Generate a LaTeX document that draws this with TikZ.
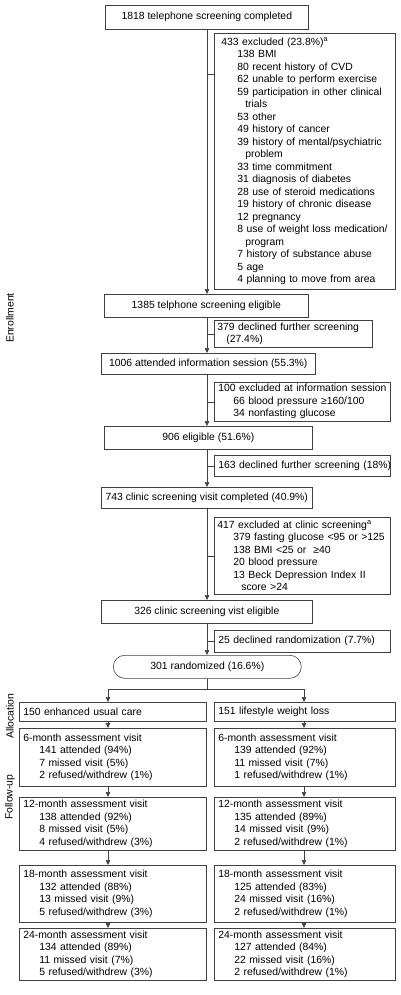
\documentclass[tikz,border=0pt]{standalone}
\usepackage{fontspec}
\setmainfont{Liberation Sans}
\usetikzlibrary{arrows.meta}
\newcommand\indA{\hspace*{16pt}}
\newcommand\indB{\hspace*{24pt}}
\tikzset{
  ln/.style={draw=black!75, line width=0.6pt},
  arr/.style={ln, -{Triangle[length=5pt,width=4.5pt]}},
  mainbox/.style={ln, anchor=north west, align=center, inner sep=0pt,
    font=\fontsize{10.4}{12.5}\selectfont},
  sidebox/.style={ln, anchor=north west, align=left, inner ysep=0pt,
    font=\fontsize{10.4}{12.5}\selectfont},
  lab/.style={rotate=90, font=\fontsize{10.4}{12.5}\selectfont}
}
\begin{document}
\begin{tikzpicture}[x=1pt,y=-1pt]
\useasboundingbox (0,0) rectangle (400,995);
\coordinate (tx) at (207,0);
\coordinate (lx) at (108,0);
\coordinate (rx) at (304,0);

% main column
\node[mainbox, minimum width=203pt, minimum height=24pt] (b1) at (105,5) {1818 telephone screening completed};
\node[sidebox, inner xsep=7pt, text width=167pt, minimum height=256pt] (ex1) at (214,33) {433 excluded (23.8\%)\textsuperscript{a}\\
\indA 138 BMI\\
\indA 80 recent history of CVD\\
\indA 62 unable to perform exercise\\
\indA 59 participation in other clinical\\
\indB trials\\
\indA 53 other\\
\indA 49 history of cancer\\
\indA 39 history of mental/psychiatric\\
\indB problem\\
\indA 33 time commitment\\
\indA 31 diagnosis of diabetes\\
\indA 28 use of steroid medications\\
\indA 19 history of chronic disease\\
\indA 12 pregnancy\\
\indA 8 use of weight loss medication/\\
\indB program\\
\indA 7 history of substance abuse\\
\indA 5 age\\
\indA 4 planning to move from area};
\node[mainbox, minimum width=204pt, minimum height=23pt] (b2) at (104,294) {1385 telphone screening eligible};
\node[sidebox, inner xsep=3pt, text width=152pt, minimum height=27pt] (ex2) at (214,320) {379 declined further screening\\
\hspace*{9pt}(27.4\%)};
\node[mainbox, minimum width=214pt, minimum height=21pt] (b3) at (101,353) {1006 attended information session (55.3\%)};
\node[sidebox, inner xsep=4pt, text width=168pt, minimum height=39pt] (ex3) at (214,382) {\mbox{100 excluded at information session}\\
\hspace*{15pt}66 blood pressure ≥160/100\\
\hspace*{15pt}34 nonfasting glucose};
\node[mainbox, minimum width=208pt, minimum height=23pt] (b4) at (104,426) {906 eligible (51.6\%)};
\node[sidebox, inner xsep=4pt, text width=168pt, minimum height=21pt] (ex4) at (214,455) {\mbox{163 declined further screening (18\%)}};
\node[mainbox, minimum width=211pt, minimum height=21pt] (b5) at (101,487) {743 clinic screening visit completed (40.9\%)};
\node[sidebox, inner xsep=3pt, text width=170pt, minimum height=77pt] (ex5) at (214,517) {417 excluded at clinic screening\textsuperscript{a}\\
\hspace*{16pt}379 fasting glucose <95 or >125\\
\hspace*{16pt}138 BMI <25 or \ ≥40\\
\hspace*{16pt}20 blood pressure\\
\hspace*{16pt}13 Beck Depression Index II\\
\hspace*{24pt}score >24};
\node[mainbox, minimum width=211pt, minimum height=23pt] (b6) at (101,600) {326 clinic screening vist eligible};
\node[sidebox, inner xsep=4pt, text width=168pt, minimum height=22pt] (ex6) at (214,630) {25 declined randomization (7.7\%)};
\node[mainbox, minimum width=188pt, minimum height=23pt, rounded corners=11.5pt] (rand) at (113,655) {301 randomized (16.6\%)};

% arms
\node[sidebox, inner xsep=4pt, text width=179pt, minimum height=19pt] (a1) at (19,702) {150 enhanced usual care};
\node[sidebox, inner xsep=4pt, text width=173pt, minimum height=19pt] (a2) at (214,702) {151 lifestyle weight loss};

\node[sidebox, inner xsep=4pt, text width=179pt, minimum height=58pt] (l1) at (19,728) {6-month assessment visit\\
\indA 141 attended (94\%)\\ \indA 7 missed visit (5\%)\\ \indA 2 refused/withdrew (1\%)};
\node[sidebox, inner xsep=4pt, text width=173pt, minimum height=58pt] (r1) at (214,728) {6-month assessment visit\\
\indA 139 attended (92\%)\\ \indA 11 missed visit (7\%)\\ \indA 1 refused/withdrew (1\%)};
\node[sidebox, inner xsep=4pt, text width=179pt, minimum height=53pt] (l2) at (19,797) {12-month assessment visit\\
\indA 138 attended (92\%)\\ \indA 8 missed visit (5\%)\\ \indA 4 refused/withdrew (3\%)};
\node[sidebox, inner xsep=4pt, text width=173pt, minimum height=53pt] (r2) at (214,797) {12-month assessment visit\\
\indA 135 attended (89\%)\\ \indA 14 missed visit (9\%)\\ \indA 2 refused/withdrew (1\%)};
\node[sidebox, inner xsep=4pt, text width=179pt, minimum height=57pt] (l3) at (19,865) {18-month assessment visit\\
\indA 132 attended (88\%)\\ \indA 13 missed visit (9\%)\\ \indA 5 refused/withdrew (3\%)};
\node[sidebox, inner xsep=4pt, text width=173pt, minimum height=57pt] (r3) at (214,865) {18-month assessment visit\\
\indA 125 attended (83\%)\\ \indA 24 missed visit (16\%)\\ \indA 2 refused/withdrew (1\%)};
\node[sidebox, inner xsep=4pt, text width=179pt, minimum height=52pt] (l4) at (19,928) {24-month assessment visit\\
\indA 134 attended (89\%)\\ \indA 11 missed visit (7\%)\\ \indA 5 refused/withdrew (3\%)};
\node[sidebox, inner xsep=4pt, text width=173pt, minimum height=52pt] (r4) at (214,928) {24-month assessment visit\\
\indA 127 attended (84\%)\\ \indA 22 missed visit (16\%)\\ \indA 2 refused/withdrew (1\%)};

% side labels
\node[lab] (enr) at (10,318) {Enrollment};
\node[lab] (alc) at (10,716) {Allocation};
\node[lab] (fup) at (10,797) {Follow-up};

% trunk arrows
\draw[arr] (b1.south -| tx) -- (b2.north -| tx);
\draw[arr] (b2.south -| tx) -- (b3.north -| tx);
\draw[arr] (b3.south -| tx) -- (b4.north -| tx);
\draw[arr] (b4.south -| tx) -- (b5.north -| tx);
\draw[arr] (b5.south -| tx) -- (b6.north -| tx);
\draw[arr] (b6.south -| tx) -- (rand.north -| tx);

% branches to exclusion boxes
\coordinate (ex1b) at (214,74);
\draw[ln] (ex1b) -- (ex1b -| tx);
\draw[ln] (ex2.west) -- (ex2.west -| tx);
\draw[ln] (ex3.west) -- (ex3.west -| tx);
\draw[ln] (ex4.west) -- (ex4.west -| tx);
\draw[ln] (ex5.west) -- (ex5.west -| tx);
\draw[ln] (ex6.west) -- (ex6.west -| tx);

% randomization split
\draw[ln] (rand.south) -- ++(0,11) coordinate (sp);
\draw[arr] (sp) -| (a1.north -| lx);
\draw[arr] (sp) -| (a2.north -| rx);

% follow-up arrows
\draw[arr] (a1.south -| lx) -- (l1.north -| lx);
\draw[arr] (l1.south -| lx) -- (l2.north -| lx);
\draw[arr] (l2.south -| lx) -- (l3.north -| lx);
\draw[arr] (l3.south -| lx) -- (l4.north -| lx);
\draw[arr] (a2.south -| rx) -- (r1.north -| rx);
\draw[arr] (r1.south -| rx) -- (r2.north -| rx);
\draw[arr] (r2.south -| rx) -- (r3.north -| rx);
\draw[arr] (r3.south -| rx) -- (r4.north -| rx);
\end{tikzpicture}
\end{document}
